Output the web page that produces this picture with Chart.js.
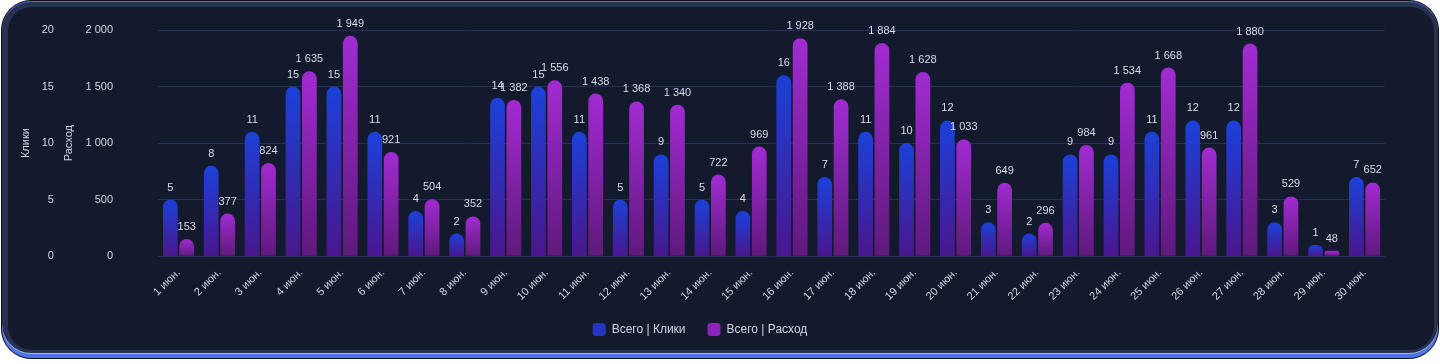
<!DOCTYPE html>
<html>
<head>
<meta charset="utf-8">
<script src="https://cdn.jsdelivr.net/npm/chart.js@4"></script>
<style>
	html, body { margin: 0; padding: 0; background: #ffffff; }
	.card {
		position: absolute; left: 1px; top: 0; width: 1436px; height: 357px;
		border: 1px solid #0b0d16; border-radius: 30px; background: #2a3050;
		box-shadow: inset 0 1px 0 #4f74e8, inset 0 -4px 0 #4f74e8, inset 0 -5px 0 #9fb4f4;
	}
	.panel {
		position: absolute; left: 6px; top: 6px; width: 1426px; height: 343px;
		border-radius: 24px; background: #141a2e; overflow: hidden;
	}
</style>
</head>
<body>
<div class="card">
	<div class="panel"><canvas id="chart"></canvas></div>
</div>
<script>
var days = ['1 июн.', '2 июн.', '3 июн.', '4 июн.', '5 июн.', '6 июн.', '7 июн.', '8 июн.', '9 июн.', '10 июн.',
	'11 июн.', '12 июн.', '13 июн.', '14 июн.', '15 июн.', '16 июн.', '17 июн.', '18 июн.', '19 июн.', '20 июн.',
	'21 июн.', '22 июн.', '23 июн.', '24 июн.', '25 июн.', '26 июн.', '27 июн.', '28 июн.', '29 июн.', '30 июн.'];
var clicks = [5, 8, 11, 15, 15, 11, 4, 2, 14, 15, 11, 5, 9, 5, 4, 16, 7, 11, 10, 12, 3, 2, 9, 9, 11, 12, 12, 3, 1, 7];
var spend = [153, 377, 824, 1635, 1949, 921, 504, 352, 1382, 1556, 1438, 1368, 1340, 722, 969, 1928, 1388, 1884, 1628, 1033,
	649, 296, 984, 1534, 1668, 961, 1880, 529, 48, 652];
var seriesNames = ['Всего | Клики', 'Всего | Расход'];

var textColor = '#d2d6e2';
var gridColor = '#272e5c';

Chart.defaults.font.family = '"Liberation Sans", Arial, sans-serif';
Chart.defaults.font.size = 11;
Chart.defaults.color = textColor;

function fmt(v) {
	return String(v).replace(/\B(?=(\d{3})+(?!\d))/g, ' ');
}

// gradient for every bar, from its top to the zero line
function barFill(topColor, bottomColor) {
	return function(c) {
		var chart = c.chart;
		if (!chart.chartArea || c.type !== 'data') return topColor;
		var scale = chart.scales[c.dataset.yAxisID];
		var y0 = scale.getPixelForValue(0),
			y1 = scale.getPixelForValue(c.raw);
		if (!(y0 - y1 > 0)) return topColor;
		var g = chart.ctx.createLinearGradient(0, y1, 0, y0);
		g.addColorStop(0, topColor);
		g.addColorStop(1, bottomColor);
		return g;
	};
}

var valueLabels = {
	id: 'valueLabels',
	afterDatasetsDraw: function(chart) {
		var ctx = chart.ctx;
		ctx.save();
		ctx.font = '11px "Liberation Sans", Arial, sans-serif';
		ctx.fillStyle = '#d8dce8';
		ctx.textAlign = 'center';
		ctx.textBaseline = 'alphabetic';
		chart.data.datasets.forEach(function(ds, i) {
			chart.getDatasetMeta(i).data.forEach(function(el, j) {
				ctx.fillText(fmt(ds.data[j]), el.x, el.y - 9);
			});
		});
		ctx.restore();
	}
};

var legendFills = ['#2434c4', '#8a24bb'];

new Chart(document.getElementById('chart'), {
	type: 'bar',
	data: {
		labels: days,
		datasets: [{
			label: seriesNames[0],
			data: clicks,
			yAxisID: 'y',
			backgroundColor: barFill('#1b41d9', '#4a168e'),
			borderRadius: 8,
			borderSkipped: 'start'
		}, {
			label: seriesNames[1],
			data: spend,
			yAxisID: 'y1',
			backgroundColor: barFill('#a22bd2', '#5f197c'),
			borderRadius: 8,
			borderSkipped: 'start'
		}]
	},
	options: {
		responsive: true,
		maintainAspectRatio: false,
		animation: false,
		layout: { padding: { left: 7, right: 49, top: 23, bottom: 4 } },
		plugins: {
			tooltip: { enabled: false },
			legend: {
				position: 'bottom',
				labels: {
					color: textColor,
					font: { size: 12 },
					boxWidth: 13,
					boxHeight: 13,
					padding: 22,
					useBorderRadius: true,
					borderRadius: 3,
					generateLabels: function(chart) {
						var items = Chart.defaults.plugins.legend.labels.generateLabels(chart);
						items.forEach(function(it, i) {
							it.fillStyle = legendFills[i];
							it.strokeStyle = legendFills[i];
							it.lineWidth = 0;
						});
						return items;
					}
				}
			}
		},
		scales: {
			x: {
				grid: { display: false, drawTicks: false },
				border: { display: false },
				ticks: { color: textColor, maxRotation: 45, minRotation: 45, padding: 10, autoSkip: false },
				afterFit: function(scale) { scale.height -= 12; }
			},
			y: {
				position: 'left',
				weight: 2,
				min: 0, max: 20,
				grid: { display: false, drawTicks: false },
				border: { display: false },
				ticks: { stepSize: 5, padding: 3, color: textColor },
				title: { display: true, text: 'Клики', color: textColor, font: { size: 11 }, padding: { top: 4, bottom: 6.5 } }
			},
			y1: {
				position: 'left',
				weight: 1,
				min: 0, max: 2000,
				grid: { color: gridColor, drawTicks: true, tickLength: 42, tickColor: 'rgba(0,0,0,0)' },
				border: { display: false },
				ticks: { stepSize: 500, padding: 3, color: textColor, callback: function(v) { return fmt(v); } },
				title: { display: true, text: 'Расход', color: textColor, font: { size: 11 }, padding: { top: 5.4, bottom: 7 } }
			}
		}
	},
	plugins: [valueLabels]
});
</script>
</body>
</html>
